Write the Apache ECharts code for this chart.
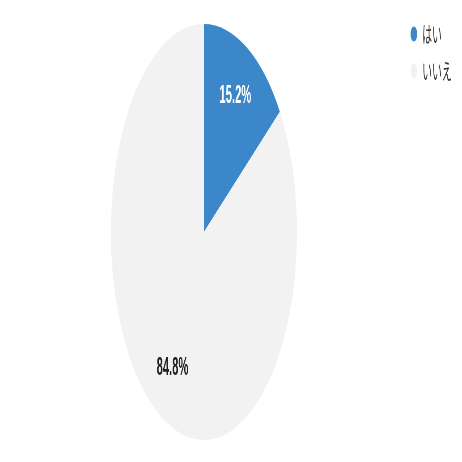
<!DOCTYPE html>
<html>
<head>
<meta charset="utf-8">
<script src="https://cdn.jsdelivr.net/npm/echarts@6/dist/echarts.min.js"></script>
<style>
    html, body { margin: 0; padding: 0; overflow: hidden; background: #fff; }
    #wrap { width: 462px; height: 462px; overflow: hidden; }
    /* the reference is a squashed render, so draw wide and squeeze it */
    #chart { width: 1033px; height: 462px; transform: scaleX(0.4472); transform-origin: 0 0; }
</style>
</head>
<body>
<div id="wrap"><div id="chart"></div></div>
<script>
    const categories = ['はい', 'いいえ'];
    const values = [15.2, 84.8];
    const colors = ['#3b87c9', '#f2f2f2'];

    let chart = echarts.init(document.getElementById('chart'));

    let pieData = categories.map((name, i) => ({
        name: name,
        value: values[i],
        itemStyle: { color: colors[i] }
    }));

    let option = {
        animation: false,
        color: colors,
        legend: {
            orient: 'vertical',
            right: 18,
            top: 18,
            icon: 'circle',
            itemWidth: 15,
            itemHeight: 15,
            itemGap: 15,
            textStyle: {
                fontSize: 22,
                lineHeight: 22,
                color: '#333',
                padding: [0, 0, 0, 6],
                fontFamily: 'Noto Sans CJK JP'
            },
            data: categories
        },
        series: [
            {
                type: 'pie',
                center: [456, 232],
                radius: [0, 208],
                startAngle: 90,
                clockwise: true,
                label: { show: false },
                labelLine: { show: false },
                emphasis: { disabled: true },
                data: pieData
            },
            {
                // label-only ring so the percentages sit ~72% out from the centre
                type: 'pie',
                center: [456, 232],
                radius: [92, 208],
                startAngle: 90,
                clockwise: true,
                silent: true,
                itemStyle: { color: 'rgba(0,0,0,0)' },
                label: {
                    show: true,
                    position: 'inside',
                    fontSize: 25,
                    fontWeight: 'bold',
                    fontFamily: 'Liberation Sans',
                    formatter: function (p) {
                        return p.value.toFixed(1) + '%';
                    }
                },
                labelLine: { show: false },
                data: categories.map((name, i) => ({
                    name: name,
                    value: values[i],
                    label: { color: i === 0 ? '#fff' : '#222' }
                }))
            }
        ]
    };

    chart.setOption(option);
</script>
</body>
</html>
